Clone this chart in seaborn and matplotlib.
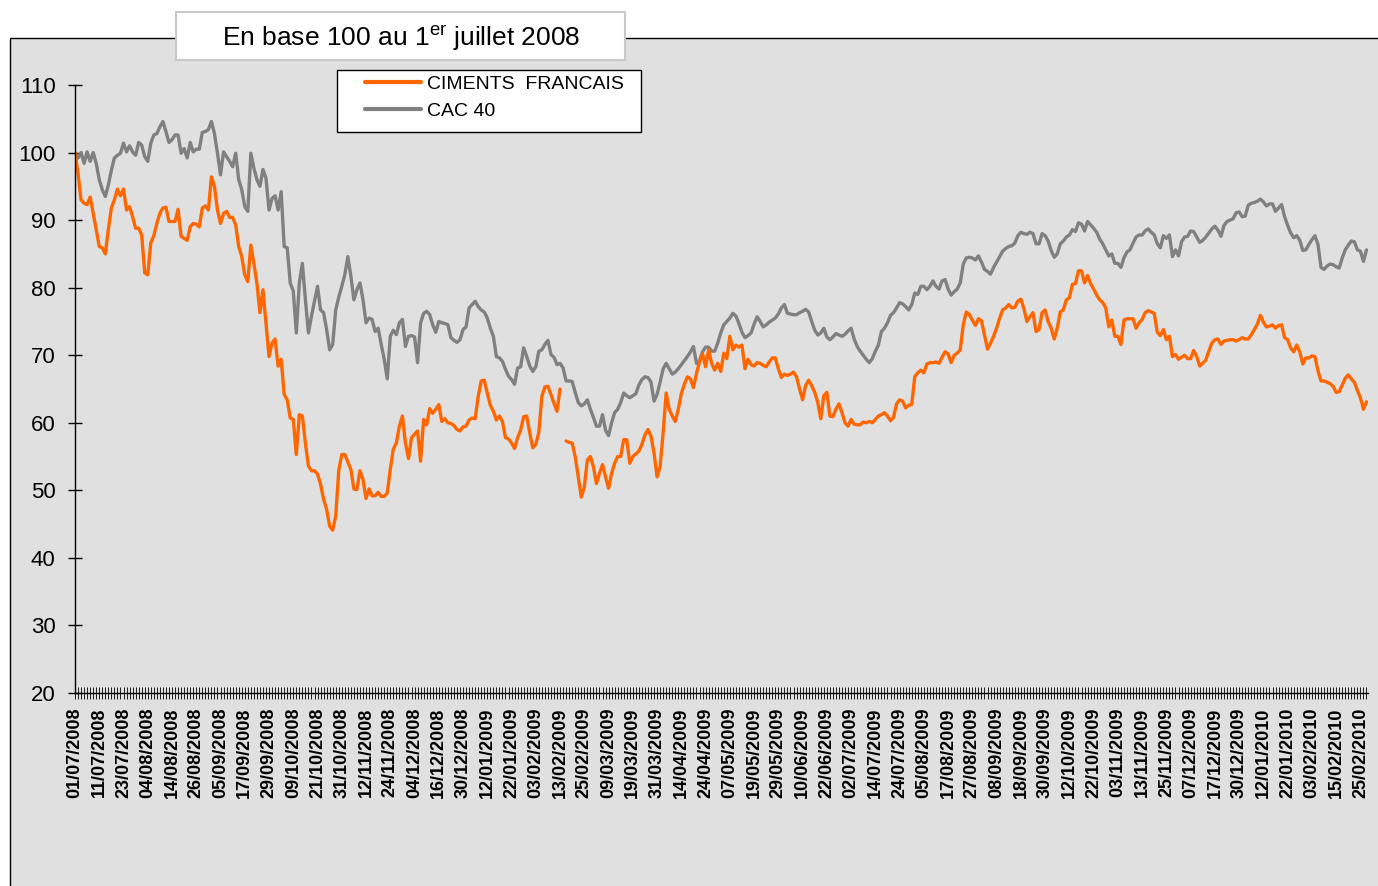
import numpy as np
import pandas as pd
import seaborn as sns
import matplotlib.pyplot as plt
from matplotlib.patches import Rectangle
from matplotlib.lines import Line2D

# Trading days (Euronext closed on these days)
holidays = ['2008-12-25', '2008-12-26', '2009-01-01', '2009-04-10',
            '2009-04-13', '2009-05-01', '2009-12-25', '2010-01-01']

# CAC 40, base 100 on 01/07/2008
cac40 = [
    100, 99.2, 100, 98.4, 100.1, 98.7, 100, 98.4, 96, 94.5,
    93.5, 95.2, 97.4, 99.2, 99.6, 99.9, 101.4, 100.1, 101, 100.1,
    99.6, 101.5, 101.1, 99.4, 98.7, 101.4, 102.6, 102.8, 103.8, 104.6,
    103.1, 101.5, 101.9, 102.6, 102.6, 99.9, 100.6, 99.2, 101.5, 100.1,
    100.5, 100.5, 103, 103.1, 103.4, 104.6, 102.8, 99.9, 96.7, 100.1,
    99.4, 98.7, 97.9, 99.9, 96, 94.5, 92, 91.3, 99.9, 97.7,
    96, 95, 97.5, 96.2, 91.5, 93.2, 93.6, 91.5, 94.2, 86.1,
    85.9, 80.7, 79.5, 73.3, 80.7, 83.6, 78.2, 73.3, 75.8, 78,
    80.2, 76.7, 76.3, 73.8, 70.8,
    71.6, 76.7, 78.6, 80.2, 81.9, 84.6, 81.7, 78.2, 79.7, 80.7,
    78.2, 74.8, 75.5, 75.3, 73.5, 74, 71.6, 69.4, 66.5, 72.8,
    73.7, 73.05, 74.8, 75.3, 71.3, 72.8, 72.9, 72.7, 68.9, 74.8,
    76.2, 76.5, 76, 74.5, 73.4, 75, 74.8, 74.7, 74.5, 72.6,
    72.2, 71.9, 72.3, 73.8, 74.2, 77, 77.5, 78, 77.2, 76.7,
    76.4, 75.5, 74, 72.8, 69.8, 69.6, 69.1, 67.9, 66.9, 66.4,
    65.7, 68.1, 68.3, 71.1, 69.8, 68.4, 67.6, 68.3, 70.6, 70.8,
    71.6, 72.2, 70.1, 69.7, 68.6, 68.8, 68.1, 66.2, 66.2, 66.1,
    64.5, 63, 62.5, 62.8, 63.4,
    62, 60.8, 59.5, 59.5, 61.2, 58.9, 58.1, 60, 61.5, 62,
    63, 64.4, 64, 63.7, 64, 64.3, 65.6, 66.4, 66.8, 66.7,
    66, 63.2, 64.2, 66, 68, 68.8, 68, 67.2, 67.5, 68,
    68.6, 69.2, 69.8, 70.5, 71.3, 68.8, 69.2, 70.5, 71.2, 71.2,
    70.6, 70.6, 71.8, 73.3, 74.5, 75, 75.5, 76.2, 75.8, 74.7,
    73.4, 72.6, 72.9, 73.3, 74.6, 75.7, 75, 74.2, 74.5, 74.9,
    75.2, 75.5, 76.1, 77, 77.5, 76.2, 76.1, 76, 76, 76.3,
    76.5, 76.8, 76.4, 75, 73.7, 73, 73.3, 74, 72.7, 72.3,
    72.7, 73.2, 73, 72.8, 73.1, 73.6, 74, 72.4, 71.3, 70.6,
    70, 69.4, 68.9, 69.5, 70.6, 71.5,
    73.5, 74, 74.8, 75.9, 76.3, 77, 77.8, 77.6, 77.2, 76.7,
    77.5, 79.2, 79, 80.2, 80.2, 79.7, 80.2, 81, 80.2, 79.8,
    81, 81.2, 79.8, 78.9, 79.4, 79.8, 80.7, 83.5, 84.4, 84.5,
    84.4, 84.1, 84.7, 83.8, 82.7, 82.4, 82, 83, 83.8, 84.6,
    85.4, 85.8, 86.1, 86.2, 86.6, 87.7, 88.2, 88, 87.9, 88.2,
    88, 86.5, 86.5, 88, 87.7, 86.9, 85.5, 84.5, 85, 86.5,
    86.9, 87.5, 87.8, 88.6, 88.3, 89.6, 89.4, 88.4, 89.8, 89.3,
    88.8, 88.2, 87.2, 86.5, 85.6, 84.7, 85,
    83.6, 83.6, 83, 84.4, 85.3, 85.6, 86.6, 87.5, 87.8, 87.8,
    88.4, 88.7, 88.2, 87.8, 86.5, 85.9, 87.7, 87.3, 87.8, 84.6,
    85.6, 84.7, 86.8, 87.5, 87.6, 88.4, 88.3, 87.5, 86.7, 87,
    87.5, 88.1, 88.7, 89.1, 88.5, 87.6, 89.2, 89.8, 90, 90.2,
    91.1, 91.2, 90.5, 90.6, 92.2, 92.5, 92.6, 92.8, 93.1, 92.7,
    92.1, 92.4, 92.4, 91.3, 91.8, 92.3, 90.5, 89.2, 88.1, 87.4,
    87.7, 87, 85.5, 85.6, 86.4, 87.1, 87.7, 86.4, 83, 82.7,
    83.2, 83.5, 83.4, 83.1, 82.9, 84.4, 85.6, 86.3, 86.9, 86.8,
    85.6, 85.4, 83.9, 85.6,
]

# Ciments Francais, base 100 on 01/07/2008 (one missing day in February 2009)
ciments = [
    100, 96.9, 93, 92.5, 92.3, 93.4, 91, 88.6, 86.1, 85.9,
    85, 88.6, 91.8, 93, 94.6, 93.6, 94.6, 91.5, 92, 90.5,
    88.8, 88.8, 87.8, 82.2, 81.9, 86.6, 87.7, 89.5, 91, 91.8,
    91.9, 89.8, 89.8, 89.8, 91.6, 87.6, 87.3, 87, 89, 89.5,
    89.4, 89, 91.8, 92.1, 91.5, 96.4, 95, 91.5, 89.5, 91,
    91.3, 90.4, 90.4, 89.3, 86.1, 84.6, 81.9, 80.9, 86.3, 83.6,
    80.7, 76.3, 79.7, 74.8, 69.8, 71.8, 72.4, 68.4, 69.4, 64.2,
    63.4, 60.7, 60.5, 55.3, 61.2, 61, 57, 53.6, 52.9, 52.9,
    52.4, 50.9, 48.7, 47.2, 44.7,
    44.1, 46.2, 52.9, 55.3, 55.3, 54.2, 53.1, 50.2, 50.1, 52.9,
    51.6, 48.8, 50.2, 49.2, 49.2, 49.7, 49.1, 49.1, 49.6, 53.1,
    56.1, 57, 59.5, 61, 57, 54.7, 57.8, 58.3, 58.8, 54.3,
    60.5, 59.7, 62.1, 61.4, 62, 62.7, 60.2, 60.6, 60, 59.9,
    59.6, 59, 58.8, 59.4, 59.5, 60.4, 60.7, 60.6, 63.9, 66.2,
    66.3, 64.4, 62.6, 61.7, 60.4, 61, 60.2, 57.8, 57.6, 57,
    56.2, 57.8, 58.9, 60.9, 61, 58.5, 56.3, 56.8, 58.6, 63.9,
    65.3, 65.4, 64.2, 62.9, 61.7, 65, np.nan, 57.3, 57.1, 57,
    55, 52, 49, 50.5, 54.5,
    55, 53.5, 51, 52.5, 53.8, 52, 50.3, 52.5, 54, 55,
    55, 57.5, 57.5, 54, 55, 55.4, 55.8, 56.8, 58.2, 59,
    58, 55.5, 52, 53.5, 58.5, 64.4, 62, 61, 60.2, 62,
    64.3, 65.7, 66.8, 66.5, 65.2, 67.3, 69, 70.2, 68.3, 70.8,
    68.8, 67.8, 68.8, 67.6, 70.3, 69.5, 72.8, 70.8, 71.5, 71.2,
    71.5, 68, 69.4, 68.6, 68.4, 68.9, 68.8, 68.5, 68.3, 69,
    69.6, 69.6, 68, 66.7, 67.2, 67, 67.2, 67.5, 66.8, 65,
    63.4, 65.5, 66.3, 65.5, 64.5, 63, 60.6, 64, 64.5, 61,
    60.9, 62, 62.8, 61.5, 60, 59.5, 60.5, 59.8, 59.7, 59.7,
    60.1, 60, 60.2, 60, 60.5, 61,
    61.2, 61.5, 61, 60.3, 60.8, 62.8, 63.4, 63.2, 62.2, 62.6,
    62.7, 66.8, 67.4, 67.8, 67.4, 68.7, 68.9, 68.9, 69, 68.8,
    69.7, 70.5, 70.2, 68.9, 70, 70.3, 70.8, 74.5, 76.4, 76,
    75.2, 74.4, 75.4, 75.1, 73, 70.9, 71.8, 72.8, 74, 75.5,
    76.7, 77, 77.5, 77, 77.1, 78, 78.3, 76.9, 75, 75.7,
    76.3, 73.5, 73.8, 76.3, 76.7, 75, 74, 72.4, 74, 76.4,
    76.7, 78.2, 78.5, 80.5, 80.6, 82.5, 82.5, 80.7, 81.8, 80.6,
    79.8, 78.9, 78.2, 77.8, 77, 74.2, 75.2,
    72.8, 72.8, 71.6, 75.2, 75.4, 75.4, 75.4, 74, 74.8, 75.3,
    76.3, 76.6, 76.4, 76.2, 73.4, 72.9, 73.8, 72.3, 72.8, 69.8,
    70.1, 69.4, 69.7, 70, 69.5, 69.5, 70.7, 69.8, 68.4, 68.8,
    69.3, 70.6, 71.8, 72.3, 72.4, 71.6, 72.1, 72.2, 72.3, 72.3,
    72.1, 72.3, 72.6, 72.4, 72.4, 73, 73.8, 74.6, 75.9, 74.9,
    74.2, 74.3, 74.5, 74, 74.4, 74.5, 72.6, 72.3, 71.1, 70.5,
    71.5, 70.5, 68.7, 69.6, 69.6, 69.9, 69.8, 67.7, 66.2, 66.2,
    66, 65.8, 65.4, 64.5, 64.6, 65.6, 66.6, 67.1, 66.5, 66,
    64.8, 63.7, 62, 63.1,
]

series_names = ['CIMENTS  FRANCAIS', 'CAC 40']
colors = ['#FF6600', '#808080']


def main():
    sns.set_style('white')
    plt.rcParams['font.family'] = ['Liberation Sans', 'DejaVu Sans']
    plt.rcParams['mathtext.fontset'] = 'custom'
    plt.rcParams['mathtext.rm'] = 'Liberation Sans'

    days = pd.bdate_range('2008-07-01', '2010-03-01')
    days = days[~days.isin(pd.to_datetime(holidays))][:len(cac40)]
    idx = np.arange(len(days))

    df_cac = pd.DataFrame({'i': idx, 'v': cac40})
    df_cf = pd.DataFrame({'i': idx, 'v': ciments})
    # split the orange line where the quote is missing
    df_cf['seg'] = df_cf['v'].isna().cumsum()
    df_cf = df_cf.dropna()

    W, H = 1378, 886
    fig = plt.figure(figsize=(W / 100, H / 100), dpi=100, facecolor='white')

    # grey chart area with its black frame
    fig.add_artist(Rectangle((10 / W, -0.05), 1.1, 1 - 38 / H + 0.05,
                             transform=fig.transFigure, facecolor='#E0E0E0',
                             edgecolor='black', linewidth=1, zorder=-2))

    ax = fig.add_axes([75 / W, 1 - 693 / H, (1368 - 75) / W, (693 - 85) / H])
    ax.set_facecolor('none')

    sns.lineplot(data=df_cac, x='i', y='v', color=colors[1], linewidth=2.4, ax=ax)
    sns.lineplot(data=df_cf, x='i', y='v', units='seg', estimator=None,
                 color=colors[0], linewidth=2.4, ax=ax)

    ax.set_xlim(0, len(idx) - 0.5)
    ax.set_ylim(20, 110)
    ax.set_yticks(range(20, 111, 10))
    ax.set_xlabel('')
    ax.set_ylabel('')

    labels = days.strftime('%d/%m/%Y')
    ax.set_xticks(idx)
    ax.set_xticklabels([lab if k % 8 == 0 else '' for k, lab in enumerate(labels)],
                       rotation=90, fontsize=13, fontweight='bold')
    ax.tick_params(axis='x', bottom=True, direction='inout', length=9,
                   width=0.6, pad=6, colors='black')
    ax.tick_params(axis='y', left=True, direction='inout', length=10, width=1,
                   pad=9, labelsize=16, colors='black')

    for side in ['top', 'right']:
        ax.spines[side].set_visible(False)
    for side in ['left', 'bottom']:
        ax.spines[side].set_color('black')
        ax.spines[side].set_linewidth(1)

    # title box
    fig.add_artist(Rectangle((176 / W, 1 - 60 / H), (625 - 176) / W, 48 / H,
                             transform=fig.transFigure, facecolor='white',
                             edgecolor='#C8C8C8', linewidth=1.5, zorder=1))
    fig.text(401 / W, 1 - 38 / H, 'En base 100 au 1$^{\\mathregular{er}}$ juillet 2008',
             ha='center', va='center', fontsize=19, color='black', zorder=2)

    # legend box
    fig.add_artist(Rectangle((337 / W, 1 - 132 / H), (641 - 337) / W, 62 / H,
                             transform=fig.transFigure, facecolor='white',
                             edgecolor='black', linewidth=1, zorder=3))
    handles = [Line2D([], [], color=c, linewidth=3) for c in colors]
    leg = fig.legend(handles, series_names, loc='upper left',
                     bbox_to_anchor=(365 / W, 1 - 75 / H),
                     borderaxespad=0, borderpad=0, frameon=False, fontsize=14,
                     handlelength=2.9, handletextpad=0.3, labelspacing=0.5)
    leg.set_zorder(4)
    for t in leg.get_texts():
        t.set_color('black')

    fig.savefig('out.png', dpi=100, facecolor='white')


if __name__ == "__main__":
    main()
